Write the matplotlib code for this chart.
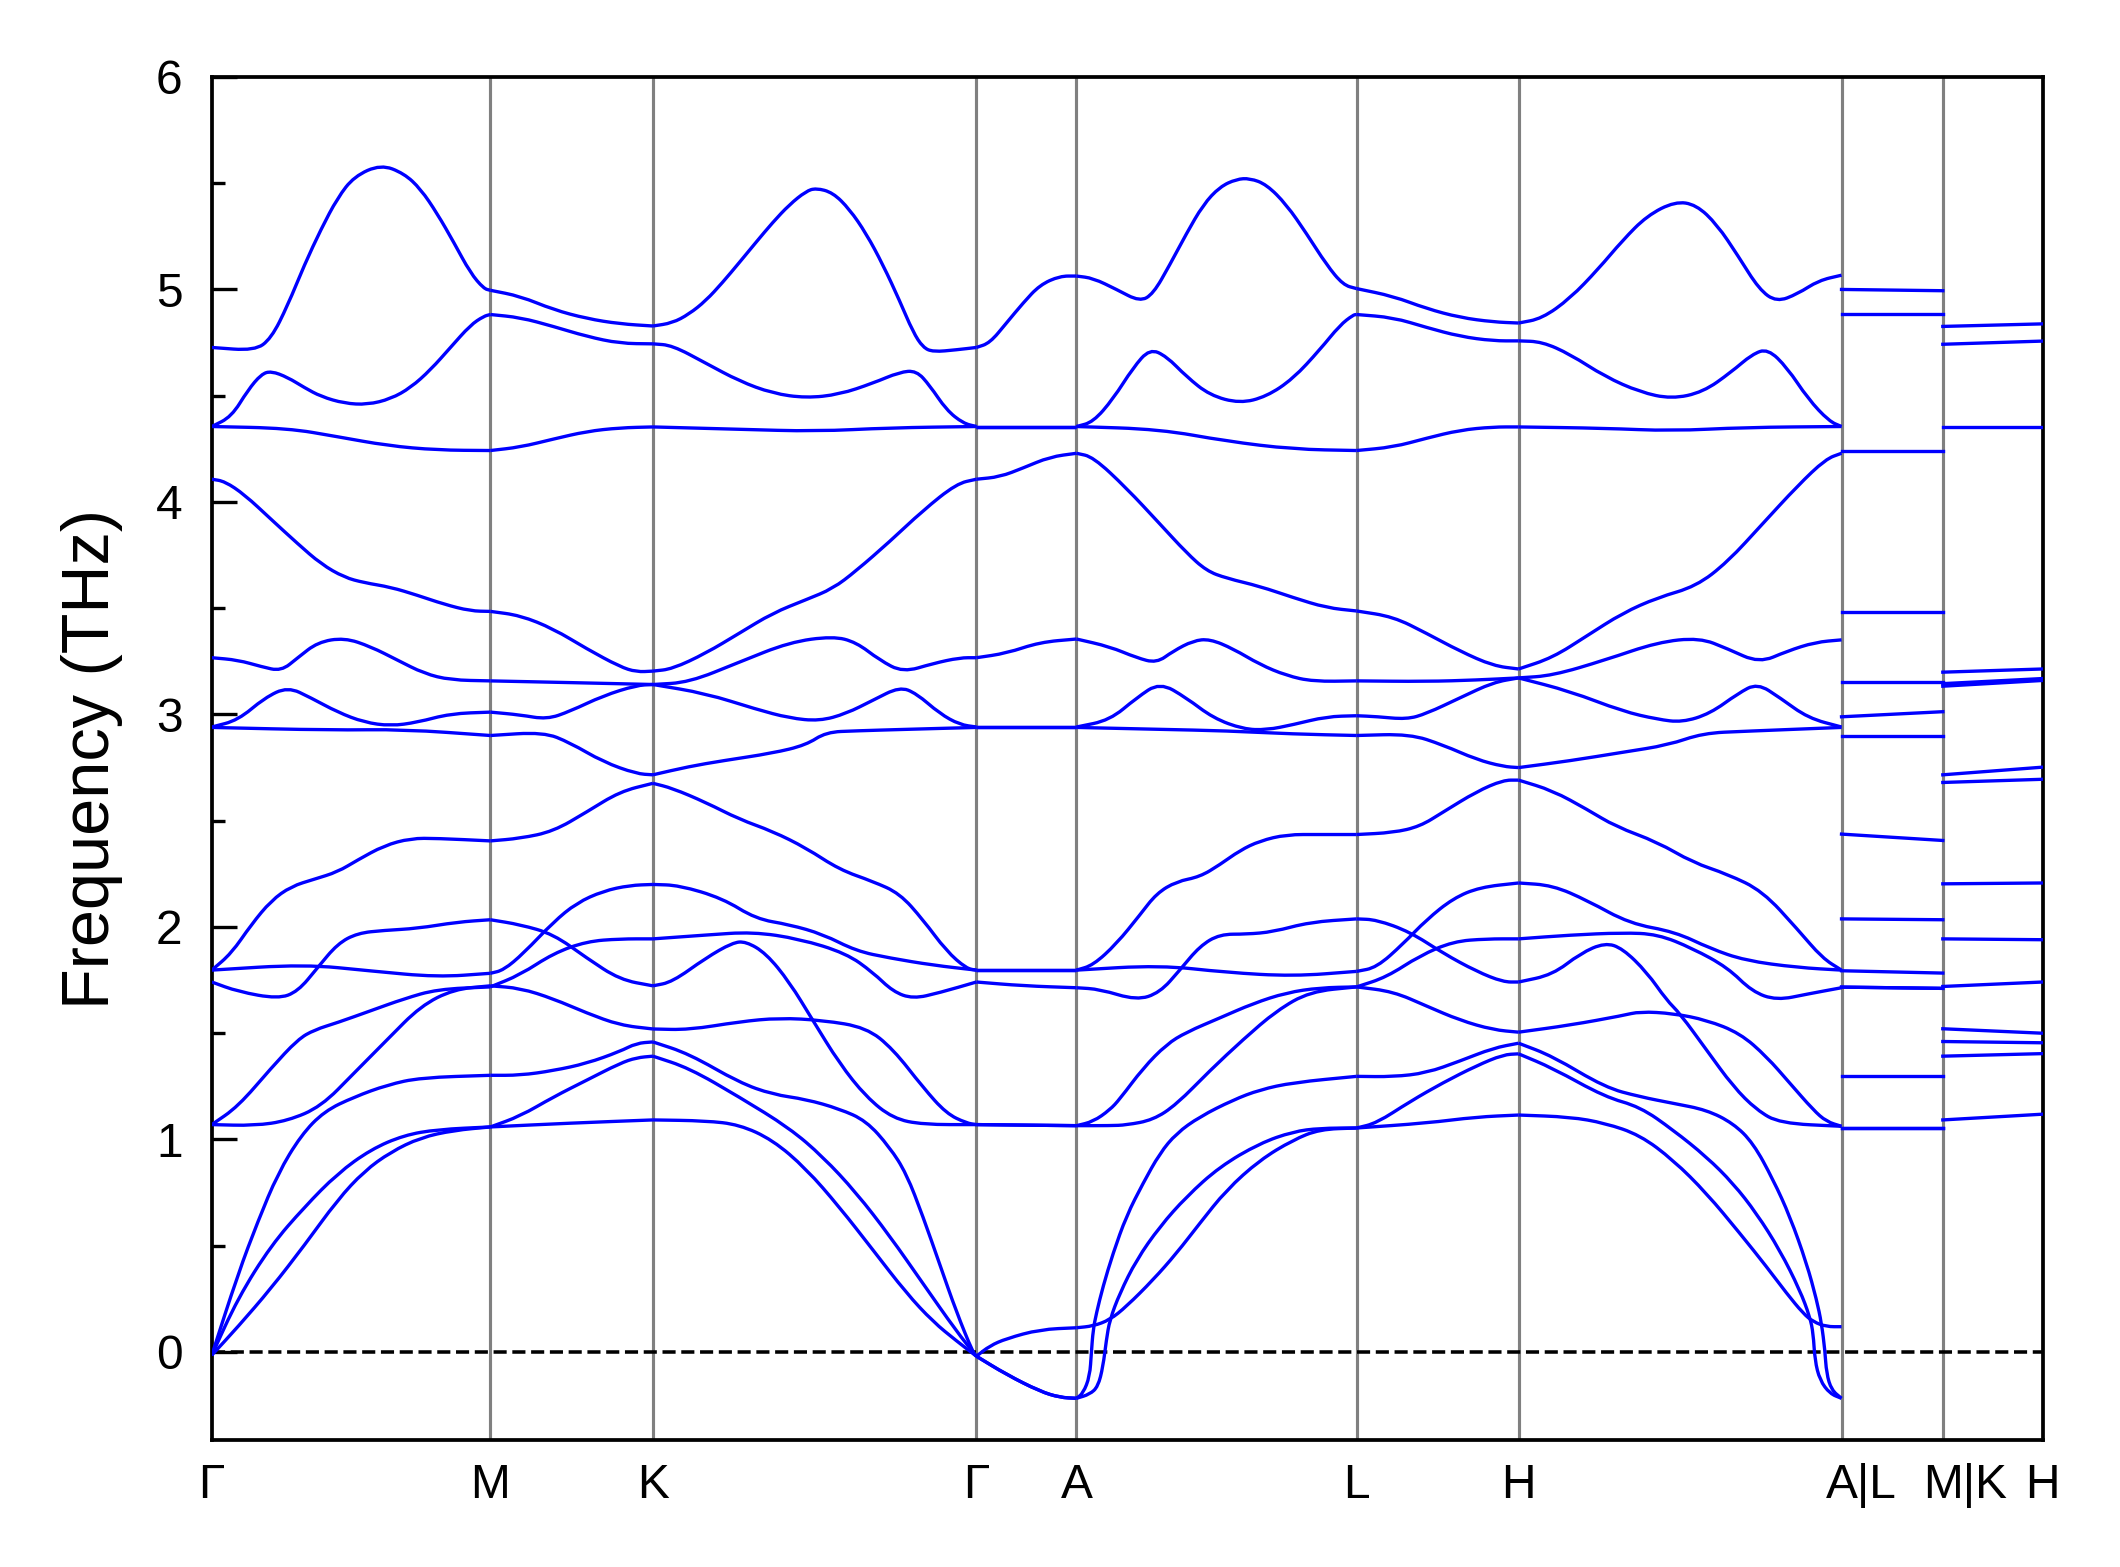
import matplotlib.pyplot as plt
from matplotlib.ticker import MultipleLocator
from matplotlib.transforms import ScaledTranslation
from matplotlib.path import Path
from matplotlib.patches import PathPatch

plt.rcParams["font.family"] = ["Liberation Sans", "DejaVu Sans"]

# path positions of the high-symmetry points (1/A) and their labels
kpoints = [0.0, 0.2060, 0.3262, 0.5654, 0.6394, 0.8465, 0.9663, 1.2051, 1.2800, 1.3538]
klabels = ["Γ", "M", "K", "Γ", "A", "L", "H", "A|L", "M|K", "H"]

# phonon branches, (q, THz) pairs, one list per branch
band_G_M = [
    [(0.0, 4.727), (0.0317, 4.712), (0.0439, 4.769), (0.0562, 4.926), (0.0685, 5.116), (0.0808, 5.284), (0.093, 5.431), (0.1053, 5.532), (0.125, 5.588), (0.1421, 5.546), (0.1544, 5.473), (0.1667, 5.357), (0.179, 5.221), (0.1912, 5.078), (0.2011, 5.004), (0.206, 4.996)],
    [(0.0, 4.355), (0.0145, 4.401), (0.0268, 4.527), (0.0366, 4.601), (0.0439, 4.616), (0.0562, 4.586), (0.0685, 4.538), (0.0808, 4.496), (0.098, 4.464), (0.1151, 4.458), (0.1323, 4.485), (0.1471, 4.538), (0.1618, 4.622), (0.1765, 4.727), (0.1912, 4.832), (0.2011, 4.874), (0.206, 4.882)],
    [(0.0, 4.355), (0.0562, 4.347), (0.093, 4.307), (0.1299, 4.265), (0.1667, 4.244), (0.206, 4.242)],
    [(0.0, 4.107), (0.0096, 4.097), (0.0243, 4.034), (0.0439, 3.918), (0.0636, 3.803), (0.0808, 3.708), (0.098, 3.645), (0.1127, 3.62), (0.1323, 3.599), (0.152, 3.561), (0.1716, 3.519), (0.1912, 3.487), (0.206, 3.485)],
    [(0.0, 3.267), (0.0194, 3.256), (0.0366, 3.225), (0.0513, 3.204), (0.0636, 3.267), (0.0783, 3.34), (0.098, 3.361), (0.1176, 3.319), (0.1372, 3.256), (0.1569, 3.193), (0.1765, 3.162), (0.206, 3.158)],
    [(0.0, 2.941), (0.0194, 2.973), (0.039, 3.078), (0.0562, 3.13), (0.0734, 3.078), (0.093, 3.011), (0.1127, 2.963), (0.1323, 2.946), (0.152, 2.963), (0.1765, 3.004), (0.206, 3.011)],
    [(0.0, 2.939), (0.0881, 2.926), (0.1421, 2.93), (0.206, 2.901)],
    [(0.0, 1.797), (0.0145, 1.876), (0.0292, 2.011), (0.0439, 2.124), (0.0587, 2.191), (0.0759, 2.225), (0.093, 2.259), (0.1078, 2.315), (0.1274, 2.383), (0.1471, 2.417), (0.1667, 2.417), (0.206, 2.405)],
    [(0.0, 1.797), (0.0685, 1.824), (0.1176, 1.793), (0.1667, 1.764), (0.206, 1.782)],
    [(0.0, 1.741), (0.0194, 1.696), (0.0489, 1.662), (0.0636, 1.696), (0.0783, 1.809), (0.093, 1.921), (0.1078, 1.971), (0.1274, 1.984), (0.152, 1.993), (0.1814, 2.023), (0.206, 2.034)],
    [(0.0, 1.07), (0.0194, 1.155), (0.0439, 1.336), (0.0636, 1.471), (0.0759, 1.516), (0.093, 1.55), (0.1176, 1.606), (0.1421, 1.662), (0.1667, 1.707), (0.206, 1.718)],
    [(0.0, 1.07), (0.0317, 1.065), (0.0562, 1.088), (0.0808, 1.155), (0.1053, 1.313), (0.1299, 1.471), (0.1544, 1.628), (0.179, 1.707), (0.206, 1.723)],
    [(0.0, -0.015), (0.0194, 0.367), (0.0341, 0.615), (0.0489, 0.84), (0.066, 1.02), (0.0832, 1.133), (0.1053, 1.2), (0.1299, 1.257), (0.1544, 1.291), (0.206, 1.302)],
    [(0.0, -0.015), (0.0194, 0.254), (0.0439, 0.502), (0.0685, 0.682), (0.093, 0.84), (0.1176, 0.953), (0.1421, 1.02), (0.1667, 1.047), (0.206, 1.059)],
    [(0.0, -0.015), (0.0194, 0.119), (0.0439, 0.3), (0.0685, 0.502), (0.093, 0.716), (0.1127, 0.851), (0.1323, 0.941), (0.1544, 1.009), (0.179, 1.043), (0.206, 1.059)],
]

band_M_K = [
    [(0.206, 4.996), (0.2281, 4.968), (0.2526, 4.905), (0.2772, 4.863), (0.3017, 4.838), (0.3262, 4.828)],
    [(0.206, 4.882), (0.2281, 4.868), (0.2526, 4.826), (0.2772, 4.779), (0.3017, 4.746), (0.3262, 4.744)],
    [(0.206, 4.242), (0.2281, 4.258), (0.2526, 4.296), (0.2772, 4.332), (0.3017, 4.349), (0.3262, 4.353)],
    [(0.206, 3.485), (0.2281, 3.466), (0.2526, 3.403), (0.2772, 3.309), (0.3017, 3.225), (0.314, 3.2), (0.3262, 3.204)],
    [(0.206, 3.158), (0.2649, 3.15), (0.3262, 3.141)],
    [(0.206, 3.011), (0.2281, 2.998), (0.2477, 2.977), (0.2649, 3.015), (0.2894, 3.088), (0.314, 3.137), (0.3262, 3.141)],
    [(0.206, 2.901), (0.2453, 2.917), (0.2649, 2.867), (0.2894, 2.777), (0.314, 2.721), (0.3262, 2.716)],
    [(0.206, 2.405), (0.2281, 2.417), (0.2526, 2.45), (0.2772, 2.541), (0.3017, 2.637), (0.3262, 2.676)],
    [(0.206, 2.034), (0.2281, 2.011), (0.2526, 1.966), (0.2772, 1.854), (0.3017, 1.752), (0.3262, 1.723)],
    [(0.206, 1.782), (0.2158, 1.797), (0.2305, 1.876), (0.2526, 2.023), (0.2698, 2.113), (0.2894, 2.169), (0.3091, 2.196), (0.3262, 2.2)],
    [(0.206, 1.718), (0.2281, 1.775), (0.2526, 1.876), (0.2772, 1.932), (0.3017, 1.944), (0.3262, 1.944)],
    [(0.206, 1.723), (0.2281, 1.712), (0.2526, 1.662), (0.2772, 1.595), (0.3017, 1.538), (0.3262, 1.52)],
    [(0.206, 1.302), (0.2281, 1.302), (0.2526, 1.324), (0.2772, 1.358), (0.3017, 1.414), (0.314, 1.453), (0.3262, 1.459)],
    [(0.206, 1.059), (0.2281, 1.11), (0.2526, 1.2), (0.2772, 1.279), (0.3017, 1.358), (0.314, 1.385), (0.3262, 1.392)],
    [(0.206, 1.059), (0.2649, 1.077), (0.3262, 1.092)],
]

band_K_G = [
    [(0.3262, 4.828), (0.3405, 4.842), (0.3529, 4.884), (0.3653, 4.947), (0.3776, 5.032), (0.39, 5.126), (0.4023, 5.221), (0.4147, 5.315), (0.4271, 5.399), (0.4394, 5.462), (0.4468, 5.477), (0.4592, 5.456), (0.4715, 5.378), (0.4839, 5.263), (0.4963, 5.116), (0.5086, 4.947), (0.5185, 4.8), (0.5259, 4.727), (0.5334, 4.706), (0.5507, 4.716), (0.5654, 4.727)],
    [(0.3262, 4.744), (0.3405, 4.737), (0.3653, 4.653), (0.39, 4.569), (0.4147, 4.511), (0.4394, 4.489), (0.4641, 4.506), (0.4889, 4.559), (0.5086, 4.611), (0.521, 4.618), (0.5309, 4.548), (0.5432, 4.433), (0.5556, 4.37), (0.5654, 4.355)],
    [(0.3262, 4.353), (0.39, 4.342), (0.4468, 4.332), (0.5012, 4.349), (0.5654, 4.355)],
    [(0.3262, 3.204), (0.3405, 3.214), (0.3653, 3.288), (0.39, 3.382), (0.4147, 3.477), (0.4394, 3.54), (0.4592, 3.592), (0.4765, 3.676), (0.5012, 3.813), (0.5259, 3.96), (0.5507, 4.086), (0.5654, 4.107)],
    [(0.3262, 3.141), (0.3529, 3.151), (0.39, 3.246), (0.4271, 3.34), (0.4592, 3.368), (0.4765, 3.34), (0.4938, 3.256), (0.5111, 3.198), (0.5334, 3.24), (0.5531, 3.267), (0.5654, 3.267)],
    [(0.3262, 3.141), (0.3653, 3.099), (0.4023, 3.025), (0.4271, 2.983), (0.4493, 2.969), (0.4691, 3.004), (0.4889, 3.067), (0.5086, 3.13), (0.521, 3.099), (0.5383, 3.004), (0.5531, 2.952), (0.5654, 2.941)],
    [(0.3262, 2.716), (0.3529, 2.755), (0.3776, 2.782), (0.4147, 2.818), (0.4394, 2.856), (0.4542, 2.917), (0.4765, 2.923), (0.5136, 2.93), (0.5654, 2.939)],
    [(0.3262, 2.676), (0.3405, 2.653), (0.3653, 2.586), (0.39, 2.507), (0.4147, 2.45), (0.4394, 2.372), (0.4641, 2.27), (0.4889, 2.214), (0.5086, 2.158), (0.5259, 2.034), (0.5432, 1.887), (0.5581, 1.804), (0.5654, 1.797)],
    [(0.3262, 2.2), (0.3455, 2.196), (0.3776, 2.135), (0.4023, 2.038), (0.4271, 2.011), (0.4518, 1.966), (0.4765, 1.887), (0.5012, 1.854), (0.5334, 1.82), (0.5654, 1.797)],
    [(0.3262, 1.944), (0.3653, 1.962), (0.3999, 1.977), (0.4345, 1.944), (0.4691, 1.876), (0.4889, 1.786), (0.5037, 1.696), (0.5185, 1.662), (0.5383, 1.691), (0.5654, 1.741)],
    [(0.3262, 1.723), (0.3405, 1.741), (0.3653, 1.854), (0.385, 1.926), (0.3949, 1.932), (0.4098, 1.876), (0.4271, 1.741), (0.4444, 1.561), (0.4641, 1.358), (0.4839, 1.2), (0.5037, 1.099), (0.5259, 1.07), (0.5654, 1.07)],
    [(0.3262, 1.52), (0.3529, 1.516), (0.39, 1.554), (0.4196, 1.572), (0.4518, 1.561), (0.4839, 1.527), (0.5037, 1.426), (0.5259, 1.245), (0.5432, 1.122), (0.5581, 1.077), (0.5654, 1.07)],
    [(0.3262, 1.459), (0.3529, 1.403), (0.39, 1.268), (0.4147, 1.212), (0.4394, 1.189), (0.4641, 1.144), (0.4839, 1.088), (0.5012, 0.964), (0.5136, 0.84), (0.5259, 0.637), (0.5383, 0.412), (0.5507, 0.187), (0.563, -0.005), (0.5654, -0.02)],
    [(0.3262, 1.392), (0.3529, 1.336), (0.39, 1.2), (0.4271, 1.054), (0.4518, 0.919), (0.4765, 0.75), (0.5012, 0.547), (0.5259, 0.322), (0.5507, 0.097), (0.5654, -0.02)],
    [(0.3262, 1.092), (0.3653, 1.088), (0.39, 1.07), (0.4147, 0.998), (0.4394, 0.863), (0.4641, 0.682), (0.4889, 0.48), (0.5136, 0.277), (0.5334, 0.142), (0.5507, 0.052), (0.5654, -0.02)],
]

band_G_A = [
    [(0.5654, 4.727), (0.5753, 4.748), (0.5876, 4.842), (0.6, 4.937), (0.6123, 5.021), (0.6271, 5.063), (0.6394, 5.063)],
    [(0.5654, 4.355), (0.6394, 4.355)],
    [(0.5654, 4.355), (0.6394, 4.355)],
    [(0.5654, 4.107), (0.5827, 4.118), (0.6, 4.16), (0.6197, 4.212), (0.6394, 4.229)],
    [(0.5654, 3.267), (0.5876, 3.288), (0.6123, 3.34), (0.6394, 3.355)],
    [(0.5654, 2.941), (0.6394, 2.941)],
    [(0.5654, 2.939), (0.6394, 2.939)],
    [(0.5654, 1.797), (0.6394, 1.797)],
    [(0.5654, 1.797), (0.6394, 1.797)],
    [(0.5654, 1.741), (0.6, 1.723), (0.6394, 1.714)],
    [(0.5654, 1.07), (0.6394, 1.065)],
    [(0.5654, 1.07), (0.6394, 1.065)],
    [(0.5654, -0.02), (0.5753, 0.029), (0.5876, 0.063), (0.6123, 0.106), (0.6394, 0.114)],
    [(0.5654, -0.02), (0.5876, -0.106), (0.6123, -0.185), (0.6271, -0.214), (0.6394, -0.218)],
    [(0.5654, -0.02), (0.5876, -0.106), (0.6123, -0.185), (0.6271, -0.214), (0.6394, -0.218)],
]

band_A_L = [
    [(0.6394, 5.063), (0.6517, 5.053), (0.669, 5.0), (0.6862, 4.943), (0.6961, 4.979), (0.7084, 5.116), (0.7207, 5.263), (0.7331, 5.399), (0.7454, 5.483), (0.7577, 5.519), (0.7676, 5.523), (0.7799, 5.494), (0.7947, 5.399), (0.8095, 5.263), (0.8243, 5.116), (0.8366, 5.021), (0.8465, 5.004)],
    [(0.6394, 4.355), (0.6517, 4.376), (0.6665, 4.485), (0.6813, 4.632), (0.6936, 4.721), (0.706, 4.685), (0.7207, 4.59), (0.738, 4.502), (0.7602, 4.464), (0.7799, 4.496), (0.7996, 4.58), (0.8193, 4.716), (0.8342, 4.832), (0.844, 4.88), (0.8465, 4.882)],
    [(0.6394, 4.355), (0.701, 4.342), (0.7503, 4.286), (0.7996, 4.248), (0.8465, 4.242)],
    [(0.6394, 4.229), (0.6517, 4.212), (0.6764, 4.065), (0.701, 3.897), (0.7207, 3.761), (0.7355, 3.676), (0.7503, 3.641), (0.775, 3.603), (0.7996, 3.55), (0.8243, 3.502), (0.8465, 3.487)],
    [(0.6394, 3.355), (0.664, 3.319), (0.6838, 3.267), (0.6986, 3.242), (0.7109, 3.298), (0.7257, 3.347), (0.738, 3.355), (0.7553, 3.309), (0.775, 3.235), (0.7947, 3.183), (0.8144, 3.155), (0.8465, 3.158)],
    [(0.6394, 2.941), (0.664, 2.973), (0.6838, 3.078), (0.701, 3.151), (0.7207, 3.078), (0.7405, 2.983), (0.7627, 2.931), (0.7799, 2.927), (0.7996, 2.952), (0.8243, 2.99), (0.8465, 2.994)],
    [(0.6394, 2.939), (0.701, 2.93), (0.7503, 2.923), (0.7996, 2.908), (0.8465, 2.901)],
    [(0.6394, 1.797), (0.6517, 1.82), (0.669, 1.921), (0.6862, 2.056), (0.6986, 2.158), (0.7134, 2.214), (0.7306, 2.236), (0.7454, 2.293), (0.7602, 2.36), (0.775, 2.405), (0.7947, 2.435), (0.8193, 2.435), (0.8465, 2.435)],
    [(0.6394, 1.797), (0.701, 1.82), (0.7503, 1.786), (0.7996, 1.768), (0.8465, 1.791)],
    [(0.6394, 1.714), (0.6567, 1.707), (0.6838, 1.655), (0.701, 1.691), (0.7158, 1.797), (0.7306, 1.91), (0.7454, 1.966), (0.7651, 1.966), (0.7848, 1.977), (0.812, 2.023), (0.8465, 2.038)],
    [(0.6394, 1.065), (0.6517, 1.084), (0.664, 1.139), (0.6714, 1.19), (0.6887, 1.336), (0.706, 1.448), (0.7207, 1.505), (0.7454, 1.572), (0.77, 1.64), (0.7947, 1.691), (0.8193, 1.714), (0.8465, 1.718)],
    [(0.6394, 1.065), (0.664, 1.065), (0.6763, 1.068), (0.6961, 1.092), (0.7134, 1.165), (0.738, 1.324), (0.7627, 1.471), (0.7873, 1.606), (0.812, 1.696), (0.8465, 1.718)],
    [(0.6394, -0.218), (0.6443, -0.194), (0.6492, -0.115), (0.6504, -0.003), (0.6517, 0.104), (0.6541, 0.182), (0.659, 0.308), (0.6664, 0.464), (0.6763, 0.64), (0.6886, 0.794), (0.701, 0.935), (0.7133, 1.029), (0.7305, 1.107), (0.7552, 1.186), (0.775, 1.234), (0.7996, 1.268), (0.8465, 1.297)],
    [(0.6394, -0.218), (0.6492, -0.199), (0.6553, -0.163), (0.659, -0.069), (0.6615, 0.057), (0.664, 0.151), (0.6714, 0.276), (0.6837, 0.433), (0.701, 0.59), (0.7207, 0.731), (0.7453, 0.872), (0.7749, 0.982), (0.7996, 1.037), (0.8193, 1.053), (0.8465, 1.054)],
    [(0.6394, 0.114), (0.6517, 0.122), (0.664, 0.151), (0.6763, 0.214), (0.696, 0.339), (0.7133, 0.464), (0.7305, 0.605), (0.7502, 0.762), (0.7749, 0.903), (0.7996, 0.998), (0.8193, 1.048), (0.8465, 1.054)],
]

band_L_H = [
    [(0.8465, 5.004), (0.8736, 4.968), (0.8982, 4.91), (0.9229, 4.868), (0.9475, 4.847), (0.9663, 4.842)],
    [(0.8465, 4.882), (0.8736, 4.868), (0.8982, 4.821), (0.9229, 4.779), (0.9475, 4.758), (0.9663, 4.758)],
    [(0.8465, 4.242), (0.8736, 4.258), (0.8982, 4.3), (0.9229, 4.338), (0.9475, 4.353), (0.9663, 4.353)],
    [(0.8465, 3.487), (0.8736, 3.46), (0.8982, 3.382), (0.9229, 3.298), (0.9475, 3.229), (0.9663, 3.214)],
    [(0.8465, 3.158), (0.8982, 3.155), (0.9352, 3.162), (0.9663, 3.172)],
    [(0.8465, 2.994), (0.8613, 2.99), (0.8834, 2.977), (0.8982, 3.004), (0.9229, 3.078), (0.9475, 3.151), (0.9663, 3.172)],
    [(0.8465, 2.901), (0.8859, 2.908), (0.9106, 2.856), (0.9352, 2.788), (0.9549, 2.755), (0.9663, 2.75)],
    [(0.8465, 2.435), (0.8736, 2.444), (0.8933, 2.473), (0.9106, 2.541), (0.9352, 2.637), (0.9549, 2.691), (0.9663, 2.691)],
    [(0.8465, 2.038), (0.8613, 2.034), (0.8859, 1.977), (0.9106, 1.876), (0.9352, 1.791), (0.9549, 1.741), (0.9663, 1.741)],
    [(0.8465, 1.791), (0.8613, 1.809), (0.881, 1.921), (0.8982, 2.034), (0.918, 2.135), (0.9377, 2.187), (0.9663, 2.207)],
    [(0.8465, 1.718), (0.8687, 1.764), (0.8933, 1.865), (0.918, 1.932), (0.9426, 1.944), (0.9663, 1.944)],
    [(0.8465, 1.718), (0.8736, 1.696), (0.8982, 1.628), (0.9229, 1.561), (0.9475, 1.516), (0.9663, 1.505)],
    [(0.8465, 1.297), (0.8736, 1.295), (0.8982, 1.313), (0.9229, 1.369), (0.9475, 1.43), (0.9663, 1.453)],
    [(0.8465, 1.054), (0.8613, 1.077), (0.8859, 1.178), (0.9106, 1.268), (0.9352, 1.347), (0.9549, 1.399), (0.9663, 1.403)],
    [(0.8465, 1.054), (0.8982, 1.077), (0.9352, 1.106), (0.9663, 1.115)],
]

band_H_A = [
    [(0.9663, 4.842), (0.9836, 4.863), (1.0044, 4.958), (1.0251, 5.095), (1.0432, 5.231), (1.0613, 5.347), (1.082, 5.414), (1.0976, 5.399), (1.1131, 5.305), (1.1286, 5.158), (1.1442, 5.0), (1.1571, 4.941), (1.1726, 4.979), (1.1882, 5.042), (1.2051, 5.067)],
    [(0.9663, 4.758), (0.9836, 4.754), (1.0044, 4.695), (1.0302, 4.59), (1.0561, 4.517), (1.0794, 4.485), (1.1027, 4.517), (1.1235, 4.611), (1.139, 4.695), (1.1506, 4.721), (1.1649, 4.632), (1.1804, 4.485), (1.1959, 4.38), (1.2051, 4.355)],
    [(0.9663, 4.353), (1.0302, 4.347), (1.0794, 4.334), (1.1338, 4.351), (1.2051, 4.355)],
    [(0.9663, 3.214), (0.9914, 3.267), (1.0173, 3.372), (1.0432, 3.477), (1.0691, 3.55), (1.0976, 3.603), (1.1209, 3.718), (1.1467, 3.897), (1.1726, 4.076), (1.1934, 4.202), (1.2051, 4.229)],
    [(0.9663, 3.172), (0.9914, 3.183), (1.0302, 3.256), (1.0691, 3.34), (1.1001, 3.361), (1.1209, 3.309), (1.1442, 3.242), (1.1649, 3.298), (1.1856, 3.34), (1.2051, 3.351)],
    [(0.9663, 3.172), (1.0044, 3.109), (1.0432, 3.015), (1.0691, 2.977), (1.0872, 2.963), (1.1079, 3.004), (1.1286, 3.099), (1.1429, 3.147), (1.1597, 3.078), (1.1804, 2.983), (1.2051, 2.941)],
    [(0.9663, 2.75), (1.0044, 2.782), (1.0432, 2.822), (1.0769, 2.856), (1.1027, 2.912), (1.1338, 2.921), (1.2051, 2.939)],
    [(0.9663, 2.691), (0.9914, 2.642), (1.0173, 2.552), (1.038, 2.473), (1.0691, 2.399), (1.095, 2.304), (1.1209, 2.248), (1.1467, 2.169), (1.1726, 1.989), (1.1908, 1.854), (1.2051, 1.797)],
    [(0.9663, 2.207), (0.9914, 2.196), (1.0173, 2.124), (1.0484, 2.016), (1.082, 1.977), (1.1079, 1.899), (1.1338, 1.842), (1.1726, 1.809), (1.2051, 1.797)],
    [(0.9663, 1.944), (1.0044, 1.962), (1.0432, 1.973), (1.0691, 1.966), (1.095, 1.899), (1.1209, 1.809), (1.139, 1.696), (1.1571, 1.655), (1.1804, 1.685), (1.2051, 1.714)],
    [(0.9663, 1.741), (0.9914, 1.775), (1.0121, 1.876), (1.0302, 1.926), (1.0432, 1.899), (1.0613, 1.786), (1.0757, 1.656), (1.0856, 1.593), (1.1053, 1.421), (1.125, 1.249), (1.1423, 1.139), (1.1595, 1.076), (1.2051, 1.062)],
    [(0.9663, 1.505), (1.0044, 1.538), (1.0432, 1.583), (1.056, 1.602), (1.0807, 1.593), (1.1053, 1.562), (1.13, 1.5), (1.1497, 1.39), (1.167, 1.264), (1.1842, 1.139), (1.194, 1.084), (1.2051, 1.062)],
    [(0.9663, 1.453), (0.9914, 1.392), (1.0302, 1.245), (1.056, 1.201), (1.0807, 1.17), (1.1053, 1.139), (1.125, 1.076), (1.1398, 0.983), (1.1546, 0.81), (1.167, 0.637), (1.1793, 0.417), (1.1867, 0.245), (1.1903, 0.135), (1.1928, 0.009), (1.194, -0.101), (1.1977, -0.179), (1.2051, -0.218)],
    [(0.9663, 1.403), (0.9914, 1.336), (1.0302, 1.2), (1.056, 1.154), (1.0807, 1.044), (1.1053, 0.918), (1.125, 0.793), (1.1423, 0.652), (1.1595, 0.479), (1.1743, 0.291), (1.1817, 0.165), (1.1842, 0.087), (1.1854, -0.039), (1.1891, -0.133), (1.1965, -0.196), (1.2051, -0.218)],
    [(0.9663, 1.115), (1.0044, 1.106), (1.0302, 1.077), (1.056, 1.021), (1.0807, 0.903), (1.1053, 0.747), (1.13, 0.558), (1.1497, 0.401), (1.1645, 0.276), (1.1768, 0.181), (1.1842, 0.142), (1.194, 0.119), (1.2051, 0.119)],
]

# the two short segments after the path breaks (L-M and K-H): start / end frequency of each branch
lm_start = [5.000, 4.883, 4.238, 3.484, 3.154, 2.989, 2.899, 2.437, 2.038, 1.794, 1.717, 1.717, 1.299, 1.056, 1.056]
lm_end = [4.994, 4.883, 4.238, 3.484, 3.154, 3.013, 2.899, 2.407, 2.034, 1.783, 1.711, 1.711, 1.299, 1.056, 1.056]
kh_start = [4.826, 4.742, 4.352, 3.199, 3.145, 3.133, 2.716, 2.680, 2.203, 1.944, 1.720, 1.521, 1.461, 1.392, 1.092]
kh_end = [4.838, 4.757, 4.352, 3.214, 3.169, 3.160, 2.752, 2.695, 2.207, 1.940, 1.741, 1.500, 1.455, 1.404, 1.119]


def branch_path(pts):
    # quadratic bezier through the midpoints, read points act as control points
    if len(pts) < 3:
        return Path(pts)
    mids = [((a[0] + b[0]) / 2, (a[1] + b[1]) / 2) for a, b in zip(pts[:-1], pts[1:])]
    verts = [pts[0], mids[0]]
    codes = [Path.MOVETO, Path.LINETO]
    for p, m in zip(pts[1:-1], mids[1:]):
        verts += [p, m]
        codes += [Path.CURVE3, Path.CURVE3]
    verts.append(pts[-1])
    codes.append(Path.LINETO)
    return Path(verts, codes)


fig = plt.figure(figsize=(2120 / 300, 1567 / 300), dpi=300)
ax = fig.add_axes([0.0999, 0.0808, 0.8636, 0.8701])

for seg in [band_G_M, band_M_K, band_K_G, band_G_A, band_A_L, band_L_H, band_H_A]:
    for branch in seg:
        ax.add_patch(PathPatch(branch_path(branch), fill=False, edgecolor="blue", lw=0.8, zorder=3))

for f0, f1 in zip(lm_start, lm_end):
    ax.plot([kpoints[7], kpoints[8]], [f0, f1], color="blue", lw=0.8, zorder=3)
for f0, f1 in zip(kh_start, kh_end):
    ax.plot([kpoints[8], kpoints[9]], [f0, f1], color="blue", lw=0.8, zorder=3)

for q in kpoints[1:-1]:
    ax.axvline(q, color="grey", lw=0.75, zorder=1)
ax.axhline(0, color="black", ls="--", lw=0.85, zorder=2)

ax.set_xlim(kpoints[0], kpoints[-1])
ax.set_ylim(-0.416, 6)
ax.set_xticks(kpoints)
ax.set_xticklabels(klabels)
ax.set_yticks(range(0, 7))
ax.yaxis.set_minor_locator(MultipleLocator(0.5))
ax.tick_params(axis="x", length=0, pad=5.5, labelsize=11.5)
ax.tick_params(axis="y", which="major", direction="in", length=6, width=0.8, labelsize=11.5, pad=7)
ax.tick_params(axis="y", which="minor", direction="in", length=3, width=0.8)
ax.set_ylabel("Frequency (THz)", fontsize=16, labelpad=8)
for sp in ax.spines.values():
    sp.set_linewidth(0.9)

# combined labels at the path breaks: first letter sits on the line
for lab in ax.get_xticklabels():
    txt = lab.get_text()
    if "|" in txt:
        half = {"A": 0.667, "M": 0.833}[txt[0]] * 11.5 / 2 / 72
        lab.set_ha("left")
        lab.set_transform(lab.get_transform() + ScaledTranslation(-half, 0, fig.dpi_scale_trans))

fig.savefig("out.png", dpi=300)
